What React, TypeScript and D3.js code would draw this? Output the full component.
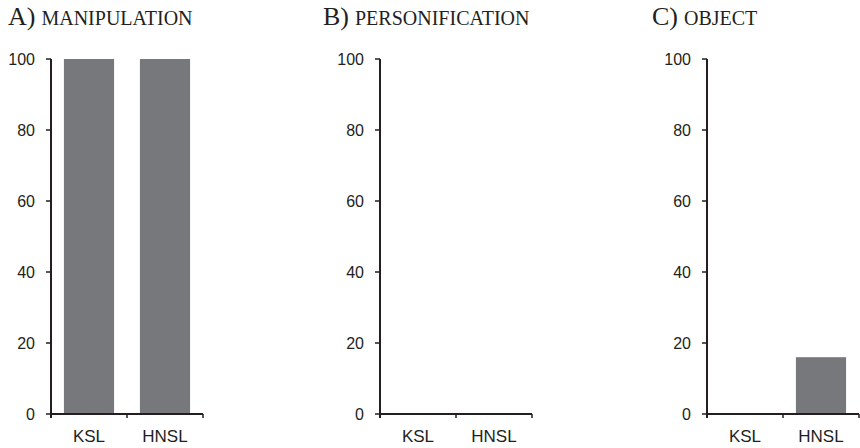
import React from "react";
import * as d3 from "d3";

const categories = ["KSL", "HNSL"];
const panelLetters = ["A)", "B)", "C)"];
const panelNames = ["MANIPULATION", "PERSONIFICATION", "OBJECT"];
const manipulationValues = [100, 100];
const personificationValues = [0, 0];
const objectValues = [0, 16];
const yTicks = [0, 20, 40, 60, 80, 100];

const panelValues = [manipulationValues, personificationValues, objectValues];
const axisX = [51, 380, 707];
const titleX = [8, 323, 652];

const W = 860;
const H = 448;
const plotW = 152;
const yTop = 59;
const yBottom = 414;
const ink = "#231f20";
const barColor = "#77787b";

export default function App() {
  const y = d3.scaleLinear().domain([0, 100]).range([yBottom, yTop]);
  return (
    <svg
      width={W}
      height={H}
      style={{ position: "absolute", left: 0, top: 0, background: "#fff" }}
    >
      {panelValues.map((vals, i) => {
        const x0 = axisX[i];
        const x = d3
          .scaleBand<string>()
          .domain(categories)
          .range([x0, x0 + plotW])
          .paddingInner(0.34)
          .paddingOuter(0.17);
        const step = x.step();
        const bounds = [x0, x0 + step, x0 + 2 * step];
        return (
          <g key={i}>
            <text
              x={titleX[i]}
              y={25}
              fontFamily="'Liberation Serif', 'Times New Roman', serif"
              fill={ink}
            >
              <tspan fontSize={26}>{panelLetters[i]}</tspan>
              <tspan fontSize={20} dx={6}>
                {panelNames[i]}
              </tspan>
            </text>
            {vals.map((v, j) =>
              v > 0 ? (
                <rect
                  key={j}
                  x={x(categories[j])}
                  width={x.bandwidth()}
                  y={y(v)}
                  height={y(0) - y(v)}
                  fill={barColor}
                />
              ) : null
            )}
            {/* y axis */}
            <line x1={x0} x2={x0} y1={y(100)} y2={y(0) + 4} stroke={ink} strokeWidth={2} />
            {yTicks.map((t) => (
              <g key={t}>
                <line x1={x0 - 5} x2={x0} y1={y(t)} y2={y(t)} stroke={ink} strokeWidth={1.5} />
                <text
                  x={x0 - 16}
                  y={y(t)}
                  dy="0.36em"
                  textAnchor="end"
                  fontSize={16}
                  fontFamily="'Liberation Sans', Arial, sans-serif"
                  fill={ink}
                >
                  {t}
                </text>
              </g>
            ))}
            {/* x axis */}
            <line x1={x0} x2={x0 + plotW} y1={y(0)} y2={y(0)} stroke={ink} strokeWidth={2} />
            {bounds.map((b, k) => (
              <line key={k} x1={b} x2={b} y1={y(0)} y2={y(0) + 4} stroke={ink} strokeWidth={1.5} />
            ))}
            {categories.map((c) => (
              <text
                key={c}
                x={(x(c) as number) + x.bandwidth() / 2}
                y={442}
                textAnchor="middle"
                fontSize={17}
                fontFamily="'Liberation Sans', Arial, sans-serif"
                fill={ink}
              >
                {c}
              </text>
            ))}
          </g>
        );
      })}
    </svg>
  );
}
